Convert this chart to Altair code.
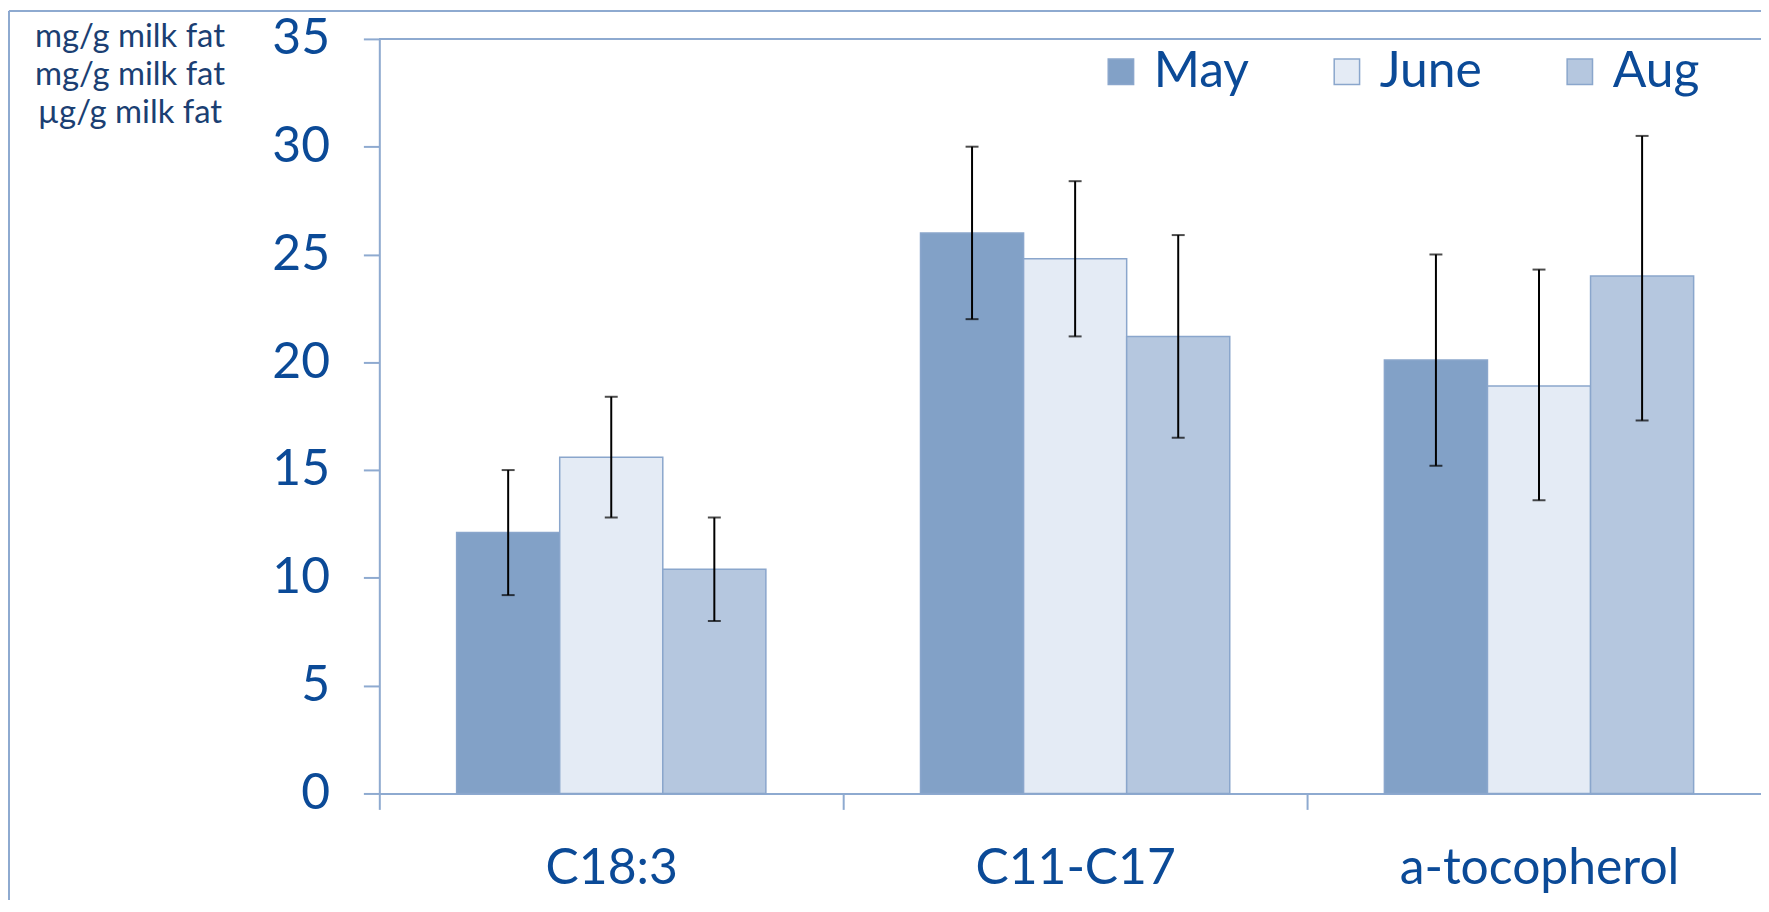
import altair as alt
import pandas as pd

categories = ["C18:3", "C11-C17", "a-tocopherol"]
months = ["May", "June", "Aug"]
may_vals = [12.1, 26.0, 20.1]
june_vals = [15.6, 24.8, 18.9]
aug_vals = [10.4, 21.2, 24.0]
may_lo = [9.2, 22.0, 15.2]
may_hi = [15.0, 30.0, 25.0]
june_lo = [12.8, 21.2, 13.6]
june_hi = [18.4, 28.4, 24.3]
aug_lo = [8.0, 16.5, 17.3]
aug_hi = [12.8, 25.9, 30.5]
unit_lines = ["mg/g milk fat", "mg/g milk fat", "\u00b5g/g milk fat"]
y_ticks = [0, 5, 10, 15, 20, 25, 30, 35]

rows = []
for m, vals, lo, hi in [("May", may_vals, may_lo, may_hi),
                        ("June", june_vals, june_lo, june_hi),
                        ("Aug", aug_vals, aug_lo, aug_hi)]:
    for c, v, l, h in zip(categories, vals, lo, hi):
        rows.append({"cat": c, "month": m, "value": v, "lo": l, "hi": h})
df = pd.DataFrame(rows)

AXIS_BLUE = "#8eaad0"
TEXT_BLUE = "#0b4a97"
FONT = "Lato"
LEFT = 373

x_enc = alt.X("cat:N", sort=categories,
              scale=alt.Scale(paddingInner=0, paddingOuter=0, range=[0, 1398]),
              axis=alt.Axis(title=None, tickBand="extent", tickSize=16, tickWidth=2,
                            tickColor=AXIS_BLUE, domainColor=AXIS_BLUE, domainWidth=2,
                            labelFontSize=50, labelColor=TEXT_BLUE, labelFont=FONT,
                            labelPadding=34, labelAngle=0, labelLimit=500))
xoff = alt.XOffset("month:N", sort=months,
                   scale=alt.Scale(paddingOuter=0.75, paddingInner=0))
y_enc = alt.Y("value:Q", scale=alt.Scale(domain=[0, 35], nice=False),
              axis=alt.Axis(values=y_ticks, tickSize=16, tickWidth=2, tickColor=AXIS_BLUE,
                            domainColor=AXIS_BLUE, domainWidth=2, grid=False,
                            labelFontSize=50, labelColor=TEXT_BLUE, labelFont=FONT,
                            labelPadding=34,
                            title=unit_lines, titleAngle=0, titleAlign="center",
                            titleBaseline="alphabetic", titleX=-251, titleY=8,
                            titleLineHeight=38, titleFontSize=33, titleFont=FONT,
                            titleFontWeight="normal", titleColor="#1b3f73",
                            titleLimit=400))

bars = alt.Chart(df).mark_bar(stroke="#8aa6cc", strokeWidth=1.5).encode(
    x=x_enc, xOffset=xoff, y=y_enc,
    color=alt.Color("month:N", sort=months,
                    scale=alt.Scale(domain=months, range=["#82a1c7", "#e4ebf5", "#b5c7df"]),
                    legend=alt.Legend(title=None, orient="none", direction="horizontal",
                                      legendX=720, legendY=8, padding=0,
                                      symbolType="square", symbolSize=650,
                                      symbolStrokeColor="#8aa6cc", symbolStrokeWidth=1.5,
                                      labelFontSize=50, labelFont=FONT, labelColor=TEXT_BLUE,
                                      labelOffset=8, columnPadding=73, labelLimit=300)),
)

err_rule = alt.Chart(df).mark_rule(color="black", strokeWidth=2).encode(
    x=alt.X("cat:N", sort=categories), xOffset=alt.XOffset("month:N", sort=months),
    y="lo:Q", y2="hi:Q")
cap_lo = alt.Chart(df).mark_tick(color="black", size=13, thickness=2).encode(
    x=alt.X("cat:N", sort=categories), xOffset=alt.XOffset("month:N", sort=months),
    y="lo:Q")
cap_hi = alt.Chart(df).mark_tick(color="black", size=13, thickness=2).encode(
    x=alt.X("cat:N", sort=categories), xOffset=alt.XOffset("month:N", sort=months),
    y="hi:Q")

top_line = alt.Chart(df).mark_rule(color=AXIS_BLUE, strokeWidth=2).encode(
    y=alt.datum(35))
frame_left = alt.Chart(df).mark_rule(color=AXIS_BLUE, strokeWidth=2).encode(
    x=alt.value(-LEFT + 1), y=alt.value(-28), y2=alt.value(870))
frame_top = alt.Chart(df).mark_rule(color=AXIS_BLUE, strokeWidth=2).encode(
    x=alt.value(-LEFT + 1), x2=alt.value(1400), y=alt.value(-28))

chart = alt.layer(bars, err_rule, cap_lo, cap_hi, top_line, frame_left, frame_top).properties(
    width=1761 - LEFT, height=758,
    autosize=alt.AutoSizeParams(type="none"),
    padding={"left": LEFT, "top": 29, "right": 0, "bottom": 105},
).configure_view(stroke=None).configure(font=FONT)

chart.save("out.html", embed_options={"renderer": "svg", "actions": False})
